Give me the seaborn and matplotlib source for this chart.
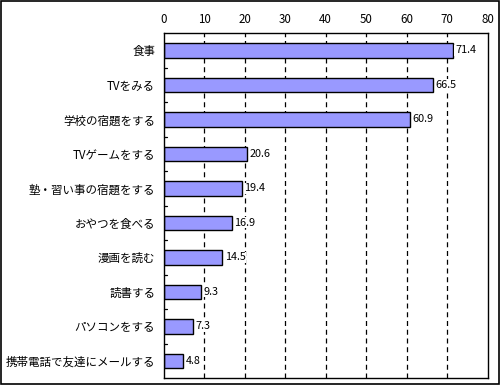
import matplotlib
matplotlib.use("Agg")
import matplotlib.pyplot as plt
import seaborn as sns
import pandas as pd
from matplotlib.patches import Rectangle

categories = ["食事", "TVをみる", "学校の宿題をする", "TVゲームをする", "塾・習い事の宿題をする",
              "おやつを食べる", "漫画を読む", "読書する", "パソコンをする", "携帯電話で友達にメールする"]
values = [71.4, 66.5, 60.9, 20.6, 19.4, 16.9, 14.5, 9.3, 7.3, 4.8]
xticks = [0, 10, 20, 30, 40, 50, 60, 70, 80]

sns.set_theme(style="white")
plt.rcParams['font.family'] = ['Noto Sans CJK JP', 'DejaVu Sans']

df = pd.DataFrame({"cat": categories, "val": values})

fig = plt.figure(figsize=(5, 3.85), dpi=100)
ax = fig.add_axes([0.327, 0.018, 0.648, 0.896])

for x in xticks[1:-1]:
    ax.axvline(x, color="black", linestyle=(0, (4, 3)), linewidth=0.9, zorder=0.5)

sns.barplot(data=df, x="val", y="cat", orient="h", color="#9999FF",
            edgecolor="black", linewidth=1.0, width=0.42, saturation=1, ax=ax, zorder=3)
for p in ax.patches:
    p.set_zorder(3)

ax.set_xlim(0, 80)
ax.set_ylim(len(categories) - 0.5, -0.5)
ax.set_xticks(xticks)
ax.xaxis.tick_top()
ax.tick_params(axis="x", length=0, labelsize=8.3, pad=5, colors="black")
ax.tick_params(axis="y", length=0, labelsize=8.3, pad=6, colors="black")
ax.set_xlabel("")
ax.set_ylabel("")

# small tick marks at category boundaries on left axis
for b in [i + 0.5 for i in range(len(categories) - 1)]:
    ax.plot([0, 0.9], [b, b], color="black", linewidth=0.9, clip_on=False, zorder=4)

for spine in ax.spines.values():
    spine.set_visible(True)
    spine.set_color("black")
    spine.set_linewidth(1.0)
    spine.set_zorder(5)

for i, v in enumerate(values):
    ax.text(v + 0.6, i, f"{v}", va="center", ha="left", fontsize=7.8, color="black", zorder=4,
            bbox=dict(facecolor="white", edgecolor="none", pad=0.5))

fig.patches.append(Rectangle((0.002, 0.002), 0.996, 0.996, transform=fig.transFigure,
                             fill=False, edgecolor="black", linewidth=1.2))

fig.savefig("out.png", dpi=100)
